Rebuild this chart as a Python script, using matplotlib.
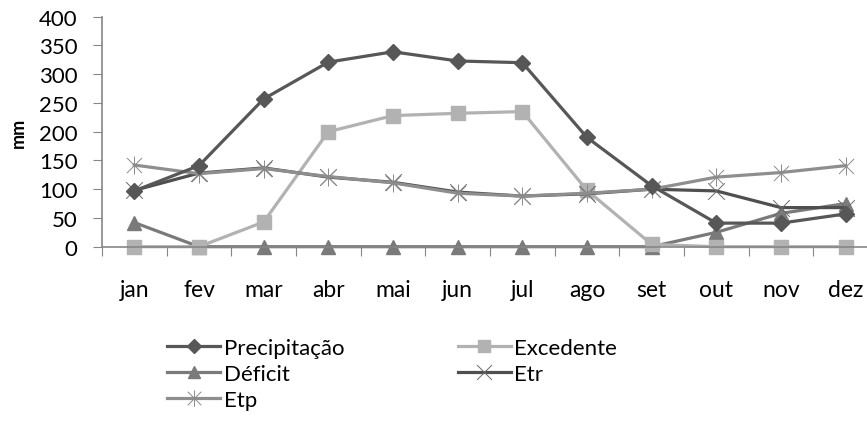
import matplotlib
matplotlib.use("Agg")
import matplotlib.pyplot as plt
from matplotlib.path import Path

plt.rcParams['font.family'] = ['Lato', 'DejaVu Sans']

meses = ["jan", "fev", "mar", "abr", "mai", "jun", "jul", "ago", "set", "out", "nov", "dez"]
precipitacao = [97, 141, 257, 321, 339, 323, 320, 190, 106, 41, 41, 57]
excedente = [0, 0, 43, 200, 228, 232, 235, 98, 4, 0, 0, 0]
deficit = [42, 0, 0, 0, 0, 0, 0, 0, 0, 25, 58, 75]
etr = [98, 128, 137, 121, 112, 95, 88, 92, 100, 97, 68, 68]
etp = [142, 127, 136, 122, 111, 93, 88, 93, 100, 121, 129, 141]

x = list(range(1, 13))

# star marker: x with a vertical bar (Excel style)
star = Path([(-1, -1), (1, 1), (-1, 1), (1, -1), (0, -1.2), (0, 1.2)],
            [Path.MOVETO, Path.LINETO, Path.MOVETO, Path.LINETO, Path.MOVETO, Path.LINETO])
xmark = Path([(-1, -1), (1, 1), (-1, 1), (1, -1)],
             [Path.MOVETO, Path.LINETO, Path.MOVETO, Path.LINETO])

fig = plt.figure(figsize=(8.67, 4.27), dpi=100)
ax = fig.add_axes([102 / 867, 179.3 / 427, 776 / 867, 230 / 427])

lw = 2.3
h_def, = ax.plot(x, deficit, color="#7a7a7a", lw=lw, marker="^", markersize=10, clip_on=False, label="Déficit")
h_exc, = ax.plot(x, excedente, color="#b2b2b2", lw=lw, marker="s", markersize=10, clip_on=False, label="Excedente")
h_etr, = ax.plot(x, etr, color="#4f4f4f", lw=lw, marker=xmark, markersize=12,
                 markeredgewidth=0.7, markeredgecolor="#6a6a6a", clip_on=False, label="Etr")
h_etp, = ax.plot(x, etp, color="#8e8e8e", lw=lw, marker=star, markersize=13,
                 markeredgewidth=0.7, markeredgecolor="#8a8a8a", clip_on=False, label="Etp")
h_pre, = ax.plot(x, precipitacao, color="#575757", lw=lw, marker="D", markersize=8, clip_on=False, label="Precipitação")

ax.set_xlim(0.5, 12.5)
ax.set_ylim(0, 400)
ax.set_yticks(range(0, 401, 50))
ax.set_xticks([i + 0.5 for i in range(0, 13)])
ax.set_xticklabels([])
ax.set_xticks(x, minor=True)
ax.set_xticklabels(meses, minor=True)
ax.tick_params(axis="x", which="minor", length=0, pad=23, labelsize=16.5)
ax.tick_params(axis="x", which="major", length=6.5, color="#868686", direction="out")
ax.tick_params(axis="y", length=6.5, color="#868686", labelsize=16, pad=11)

for s in ["top", "right"]:
    ax.spines[s].set_visible(False)
for s in ["left", "bottom"]:
    ax.spines[s].set_color("#868686")
    ax.spines[s].set_linewidth(1.2)

ax.set_ylabel("mm", fontsize=13, fontweight="bold")
ax.yaxis.set_label_coords(-0.097, 0.5)

fig.legend([h_pre, h_def, h_etp, h_exc, h_etr],
           ["Precipitação", "Déficit", "Etp", "Excedente", "Etr"],
           ncol=2, frameon=False, loc="upper left", bbox_to_anchor=(167 / 867, 1 - 339 / 427),
           fontsize=16, handlelength=2.4, handletextpad=0.15, columnspacing=5.1,
           labelspacing=0.26, borderaxespad=0, borderpad=0, markerscale=0.9)

fig.savefig("out.png", dpi=100)
